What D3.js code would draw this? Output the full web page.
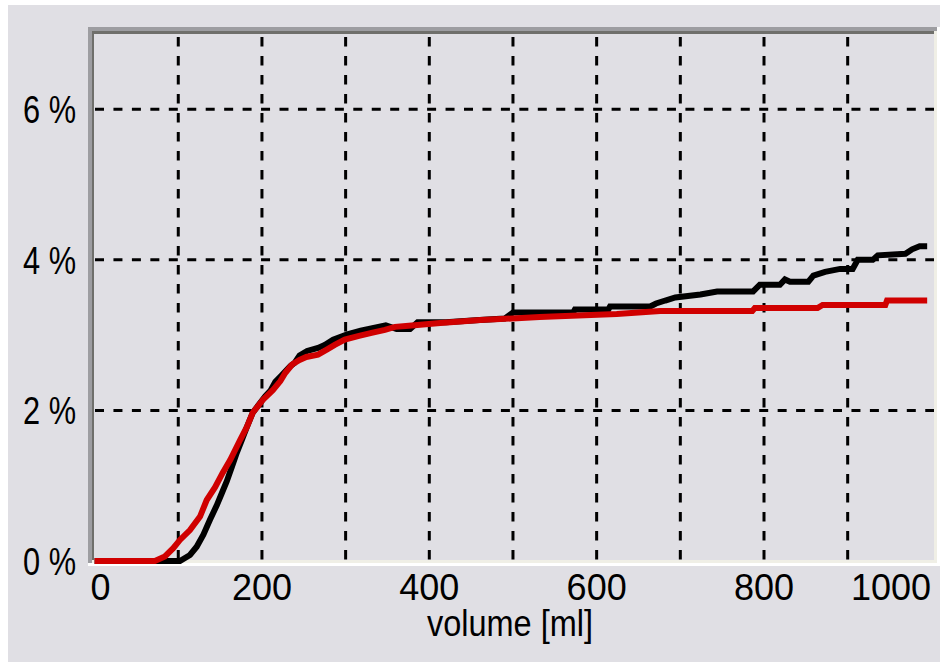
<!DOCTYPE html>
<html>
<head>
<meta charset="utf-8">
<script src="https://cdn.jsdelivr.net/npm/d3@7"></script>
<style>
  html, body { margin: 0; padding: 0; background: #ffffff; }
  text { font-family: "Liberation Sans", Arial, sans-serif; fill: #000; }
</style>
</head>
<body>
<div id="my_dataviz"></div>
<script>
// values (volume in ml, value in %)
var blackX = [0, 102, 114, 122, 130, 138, 146, 152, 158, 164, 170, 176, 182, 189, 204, 210, 216, 223, 234, 239, 245, 254, 267, 275, 285, 302, 318, 348, 361, 377, 386, 420, 460, 490, 500, 572, 574, 614, 616, 664, 671, 682, 694, 724, 744, 787, 795, 819, 825, 831, 853, 859, 873, 891, 906, 912, 930, 936, 969, 977, 986, 995]
var blackY = [0, 0, 0.08, 0.19, 0.35, 0.55, 0.74, 0.90, 1.06, 1.25, 1.44, 1.61, 1.78, 1.97, 2.19, 2.26, 2.38, 2.46, 2.59, 2.63, 2.73, 2.79, 2.83, 2.87, 2.94, 3.01, 3.06, 3.13, 3.08, 3.08, 3.17, 3.17, 3.20, 3.22, 3.30, 3.30, 3.34, 3.34, 3.38, 3.38, 3.42, 3.46, 3.50, 3.54, 3.58, 3.58, 3.67, 3.67, 3.74, 3.71, 3.71, 3.79, 3.84, 3.88, 3.88, 4.00, 4.00, 4.06, 4.08, 4.14, 4.18, 4.18]

var redX = [0, 72, 84, 94, 102, 114, 126, 134, 144, 153, 162, 174, 182, 189, 201, 213, 222, 228, 236, 245, 253, 267, 278, 287, 299, 316, 331, 347, 359, 372, 413, 461, 532, 624, 676, 786, 789, 864, 870, 945, 947, 995]
var redY = [0, 0, 0.06, 0.17, 0.28, 0.41, 0.59, 0.81, 0.98, 1.17, 1.34, 1.61, 1.78, 1.97, 2.14, 2.27, 2.39, 2.50, 2.61, 2.67, 2.71, 2.74, 2.81, 2.87, 2.94, 2.99, 3.03, 3.07, 3.11, 3.12, 3.16, 3.20, 3.24, 3.28, 3.32, 3.32, 3.36, 3.36, 3.40, 3.40, 3.46, 3.46]

var xTicks = [0, 200, 400, 600, 800, 1000]
var xGrid = [100, 200, 300, 400, 500, 600, 700, 800, 900]
var yTicks = [0, 2, 4, 6]
var yGrid = [2, 4, 6]

var width = 943
    height = 662

var svg = d3.select("#my_dataviz")
  .append("svg")
    .attr("width", width)
    .attr("height", height)

// grey window panel
svg.append("rect")
  .attr("x", 8).attr("y", 5)
  .attr("width", 932).attr("height", 657)
  .attr("fill", "#e0dfe4")

// sunken frame round the plot
svg.append("rect").attr("x", 88).attr("y", 27).attr("width", 852).attr("height", 4).attr("fill", "#9d9da1")
svg.append("rect").attr("x", 88).attr("y", 27).attr("width", 4).attr("height", 538).attr("fill", "#9d9da1")
svg.append("rect").attr("x", 92).attr("y", 31).attr("width", 845).attr("height", 3).attr("fill", "#6f6f6b")
svg.append("rect").attr("x", 92).attr("y", 31).attr("width", 2).attr("height", 531).attr("fill", "#6f6f6b")
svg.append("rect").attr("x", 92).attr("y", 560).attr("width", 845).attr("height", 3).attr("fill", "#f0efe6")
svg.append("rect").attr("x", 934).attr("y", 31).attr("width", 3).attr("height", 532).attr("fill", "#f0efe6")
svg.append("rect").attr("x", 88).attr("y", 563).attr("width", 852).attr("height", 3).attr("fill", "#ffffff")
svg.append("rect").attr("x", 937).attr("y", 27).attr("width", 3).attr("height", 539).attr("fill", "#ffffff")

// scales
var x = d3.scaleLinear()
  .domain([0, 1004])
  .range([94.6, 934.7])

var y = d3.scaleLinear()
  .domain([0, 7])
  .range([561, 34])

// dashed grid
svg.selectAll("vgrid")
  .data(xGrid)
  .enter()
  .append("line")
    .attr("x1", function(d){ return x(d) })
    .attr("x2", function(d){ return x(d) })
    .attr("y1", 37)
    .attr("y2", 560)
    .attr("stroke", "#000")
    .attr("stroke-width", 3)
    .attr("stroke-dasharray", "9.5,9.5")

svg.selectAll("hgrid")
  .data(yGrid)
  .enter()
  .append("line")
    .attr("x1", 95)
    .attr("x2", 934)
    .attr("y1", function(d){ return y(d) })
    .attr("y2", function(d){ return y(d) })
    .attr("stroke", "#000")
    .attr("stroke-width", 3)
    .attr("stroke-dasharray", "9,9.45")

// the two curves, red drawn on top
var line = d3.line()
  .x(function(d){ return x(d[0]) })
  .y(function(d){ return y(d[1]) })

var blackData = d3.zip(blackX, blackY)
var redData = d3.zip(redX, redY)

svg.append("path")
  .datum(blackData)
  .attr("d", line)
  .attr("fill", "none")
  .attr("stroke", "#000000")
  .attr("stroke-width", 6)
  .attr("stroke-linejoin", "miter")

svg.append("path")
  .datum(redData)
  .attr("d", line)
  .attr("fill", "none")
  .attr("stroke", "#d00000")
  .attr("stroke-width", 6)
  .attr("stroke-linejoin", "miter")

// y tick labels, squeezed like the narrow bitmap font
svg.selectAll("ylabels")
  .data(yTicks)
  .enter()
  .append("text")
    .attr("x", 76)
    .attr("y", function(d){ return y(d) + 14 })
    .style("text-anchor", "end")
    .style("font-size", "38px")
    .attr("textLength", 53)
    .attr("lengthAdjust", "spacingAndGlyphs")
    .text(function(d){ return d + " %" })

// x tick labels (first and last kept inside the frame)
svg.selectAll("xlabels")
  .data(xTicks)
  .enter()
  .append("text")
    .attr("x", function(d, i){
      if (i == 0) return x(d) - 4
      if (i == xTicks.length - 1) return 931
      return x(d)
    })
    .attr("y", 600)
    .style("text-anchor", function(d, i){
      if (i == 0) return "start"
      if (i == xTicks.length - 1) return "end"
      return "middle"
    })
    .style("font-size", "36px")
    .text(function(d){ return d })

// axis title
svg.append("text")
  .attr("x", 510)
  .attr("y", 636)
  .style("text-anchor", "middle")
  .style("font-size", "36px")
  .attr("textLength", 166)
  .attr("lengthAdjust", "spacingAndGlyphs")
  .text("volume [ml]")
</script>
</body>
</html>
